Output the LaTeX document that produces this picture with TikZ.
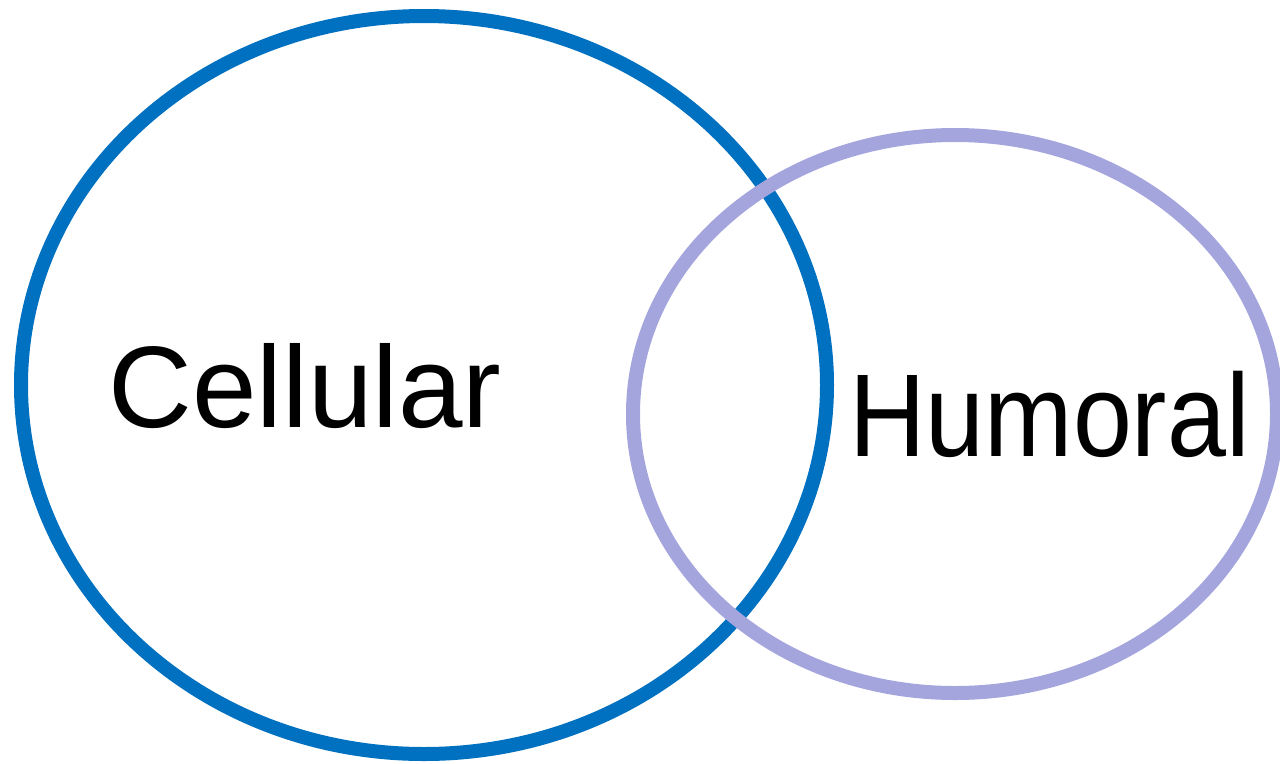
\documentclass[tikz,border=0pt]{standalone}
\usepackage{fontspec}
\setmainfont{Liberation Sans}
\usepackage{xcolor}
\usetikzlibrary{shapes.geometric,positioning}

\definecolor{cellblue}{RGB}{0,112,192}
\definecolor{humlilac}{RGB}{165,165,222}

\begin{document}
\begin{tikzpicture}[
    set/.style={draw, ellipse, line width=0.28cm, inner sep=0pt},
    lbl/.style={anchor=base west, inner sep=0pt}
]
    \useasboundingbox (0,0) rectangle (25.6,-15.26);
    \node[set, draw=cellblue, minimum width=16.12cm, minimum height=14.76cm] (cell) at (8.48,-7.70) {};
    \node[set, draw=humlilac, minimum width=12.88cm, minimum height=11.16cm] (hum) at (19.1,-8.28) {};
    \node[lbl, font=\fontsize{66pt}{66pt}\selectfont] (celltxt) at (2.16,-8.54) {Cellular};
    \node[lbl, font=\fontsize{67pt}{67pt}\selectfont, xscale=0.9] (humtxt) at (16.98,-9.12) {Humoral};
\end{tikzpicture}
\end{document}
